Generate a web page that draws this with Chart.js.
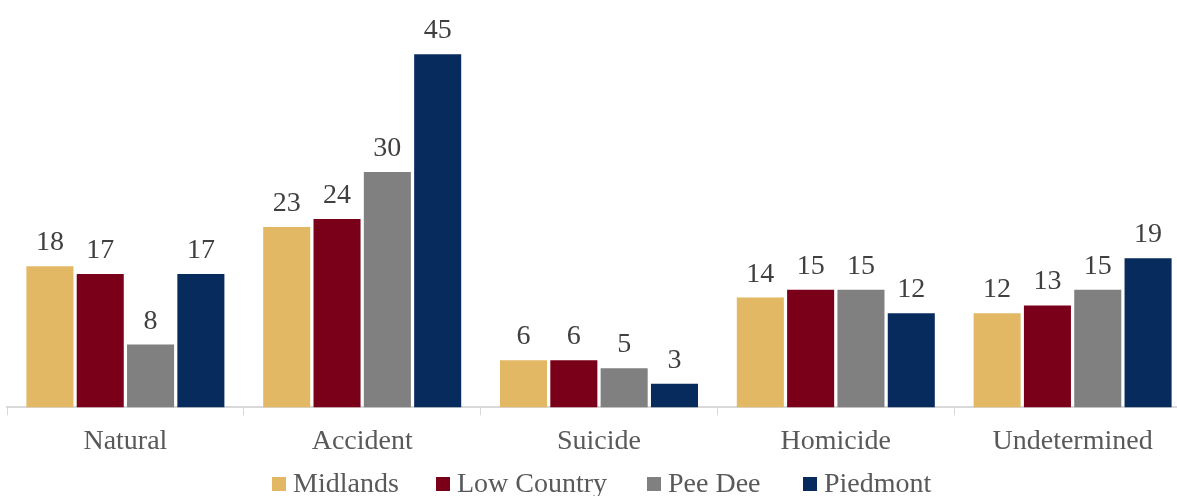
<!DOCTYPE html>
<html>
<head>
<meta charset="utf-8">
<script src="https://cdn.jsdelivr.net/npm/chart.js@4/dist/chart.umd.min.js"></script>
<style>
  html, body { margin: 0; padding: 0; background: #fff; overflow: hidden; }
  #wrap { width: 1177px; height: 496px; overflow: hidden; }
</style>
</head>
<body>
<!-- the original is cropped on the right, so the canvas is a bit wider than the window -->
<div id="wrap"><canvas id="chart" width="1191" height="496"></canvas></div>
<script>
const categories = ['Natural', 'Accident', 'Suicide', 'Homicide', 'Undetermined']
const midlands = [18, 23, 6, 14, 12]
const lowCountry = [17, 24, 6, 15, 13]
const peeDee = [8, 30, 5, 15, 15]
const piedmont = [17, 45, 3, 12, 19]

const serif = "'Liberation Serif', 'Times New Roman', serif"

// draws the number above each bar
const valueLabels = {
    id: 'valueLabels',
    afterDatasetsDraw(chart) {
        const ctx = chart.ctx
        ctx.save()
        ctx.font = '28px ' + serif
        ctx.fillStyle = '#404040'
        ctx.textAlign = 'center'
        ctx.textBaseline = 'alphabetic'
        chart.data.datasets.forEach((ds, i) => {
            const meta = chart.getDatasetMeta(i)
            meta.data.forEach((bar, j) => {
                ctx.fillText(ds.data[j], bar.x, bar.y - 16)
            })
        })
        ctx.restore()
    }
}

// legend drawn by hand so the box/text spacing matches the original
const bottomLegend = {
    id: 'bottomLegend',
    afterDraw(chart, args, opts) {
        const ctx = chart.ctx
        ctx.save()
        ctx.font = '28px ' + serif
        ctx.textBaseline = 'alphabetic'
        ctx.textAlign = 'left'
        chart.data.datasets.forEach((ds, i) => {
            const x = opts.starts[i]
            ctx.fillStyle = ds.backgroundColor
            ctx.fillRect(x, opts.y - 15, 14, 14)
            ctx.fillStyle = '#595959'
            ctx.fillText(ds.label, x + 21, opts.y)
        })
        ctx.restore()
    }
}

const makeSet = (label, data, color) => ({
    label: label,
    data: data,
    backgroundColor: color,
    borderWidth: 0,
    categoryPercentage: 0.85,
    barPercentage: 0.935
})

new Chart(document.getElementById('chart'), {
    type: 'bar',
    data: {
        labels: categories,
        datasets: [
            makeSet('Midlands', midlands, '#E2B865'),
            makeSet('Low Country', lowCountry, '#7A0019'),
            makeSet('Pee Dee', peeDee, '#808080'),
            makeSet('Piedmont', piedmont, '#082B5E')
        ]
    },
    options: {
        responsive: false,
        animation: false,
        layout: { padding: { left: 7, right: 0, top: 15, bottom: 29 } },
        plugins: {
            legend: { display: false },
            tooltip: { enabled: false },
            bottomLegend: { y: 492, starts: [272, 436, 647, 803] }
        },
        scales: {
            x: {
                grid: {
                    offset: true,
                    drawOnChartArea: false,
                    tickLength: 8,
                    color: '#D9D9D9'
                },
                border: { color: '#D9D9D9', width: 2 },
                ticks: {
                    font: { family: serif, size: 28 },
                    color: '#595959',
                    padding: 9
                }
            },
            y: {
                display: false,
                min: 0,
                max: 50
            }
        }
    },
    plugins: [valueLabels, bottomLegend]
})
</script>
</body>
</html>
